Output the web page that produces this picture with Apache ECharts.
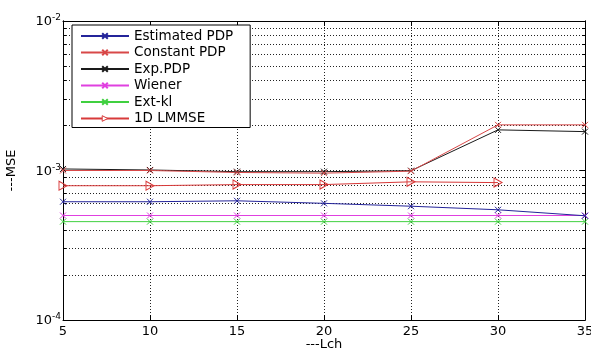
<!DOCTYPE html>
<html>
<head>
<meta charset="utf-8">
<script src="https://cdn.jsdelivr.net/npm/echarts@6/dist/echarts.min.js"></script>
<style>html,body{margin:0;padding:0;background:#fff}#c{width:591px;height:349px}</style>
</head>
<body>
<div id="c"></div>
<script>
var lch = [5, 10, 15, 20, 25, 30, 35];
var estimatedPDP = [6.18e-4, 6.18e-4, 6.27e-4, 6.03e-4, 5.77e-4, 5.46e-4, 4.98e-4];
var constantPDP = [1.0e-3, 1.0e-3, 9.7e-4, 9.6e-4, 9.9e-4, 2.02e-3, 2.02e-3];
var expPDP = [1.024e-3, 1.008e-3, 9.82e-4, 9.82e-4, 9.97e-4, 1.87e-3, 1.82e-3];
var wiener = [5.0e-4, 5.0e-4, 5.0e-4, 5.0e-4, 5.0e-4, 5.0e-4, 5.0e-4];
var extKl = [4.55e-4, 4.55e-4, 4.55e-4, 4.55e-4, 4.55e-4, 4.55e-4, 4.55e-4];
var lmmse1D = [7.91e-4, 7.91e-4, 8.05e-4, 8.05e-4, 8.4e-4, 8.3e-4];
var yMajorTicks = [1e-4, 1e-3, 1e-2];
var yMinorTicks = [2e-4, 3e-4, 4e-4, 5e-4, 6e-4, 7e-4, 8e-4, 9e-4, 2e-3, 3e-3, 4e-3, 5e-3, 6e-3, 7e-3, 8e-3, 9e-3];

function pairs(xs, ys) { return ys.map(function (v, i) { return [xs[i], v]; }); }

var X = 'path://M0,0L10,10M10,0L0,10';
var TRI = 'path://M0,0L10,5L0,10Z';
var FONT = 'DejaVu Sans';
var DOT = [1, 2];
var LMMSE_COLOR = '#d83a3a';

function mk(name, data, color, sym, size, fill) {
  return {
    name: name, type: 'line', data: pairs(lch, data),
    symbol: sym, symbolSize: size, showSymbol: true,
    lineStyle: { color: color, width: 1 },
    itemStyle: { color: fill || color, borderColor: color, borderWidth: 1 },
    emphasis: { disabled: true }, animation: false, z: 5
  };
}

var series = [
  mk('Ext-kl', extKl, '#40d040', X, 6),
  mk('Wiener', wiener, '#e040e0', X, 6),
  mk('Estimated PDP', estimatedPDP, '#24249a', X, 6),
  mk('1D LMMSE', lmmse1D, LMMSE_COLOR, TRI, [8, 9], 'rgba(255,255,255,0)'),
  mk('Exp.PDP', expPDP, '#1a1a1a', X, 6),
  mk('Constant PDP', constantPDP, '#d84848', X, 6)
];

var base = { min: 1e-4, max: 1e-2, logBase: 10, type: 'log' };
function yax(pos, ticks, len, labels, grid) {
  return Object.assign({}, base, {
    position: pos,
    axisLine: { show: true, lineStyle: { color: '#000', width: 1 } },
    axisTick: { show: true, inside: true, length: len, customValues: ticks, lineStyle: { color: '#000' } },
    axisLabel: labels ? {
      show: true, customValues: yMajorTicks, margin: 2,
      formatter: function (v) { return '{b|10}{s|' + Math.round(Math.log10(v)) + '}'; },
      rich: {
        b: { fontFamily: FONT, fontSize: 13, color: '#000', verticalAlign: 'bottom' },
        s: { fontFamily: FONT, fontSize: 9, color: '#000', verticalAlign: 'bottom', padding: [0, 0, 6, 0] }
      }
    } : { show: false },
    splitLine: { show: !!grid, lineStyle: { color: '#222', width: 1, type: DOT } },
    name: labels ? '---MSE' : '',
    nameLocation: 'middle', nameGap: 45, nameMoveOverlap: false,
    nameTextStyle: { fontFamily: FONT, fontSize: 13, color: '#000' }
  });
}

var option = {
  backgroundColor: '#fff',
  animation: false,
  grid: { left: 63, right: 6, top: 21, bottom: 29, containLabel: false, outerBoundsMode: 'none' },
  legend: {
    left: 72, top: 25, orient: 'vertical',
    itemWidth: 48, itemHeight: 7, itemGap: 2.5,
    padding: [4, 17, 2, 8],
    backgroundColor: '#fff', borderColor: '#000', borderWidth: 1,
    textStyle: { fontFamily: FONT, fontSize: 13.5, color: '#000' },
    data: ['Estimated PDP', 'Constant PDP', 'Exp.PDP', 'Wiener', 'Ext-kl',
      { name: '1D LMMSE', itemStyle: { color: '#fff', borderColor: LMMSE_COLOR, borderWidth: 1 } }],
    selectedMode: false, z: 10
  },
  xAxis: [
    {
      type: 'value', min: 5, max: 35, interval: 5, position: 'bottom',
      axisLine: { show: true, lineStyle: { color: '#000' } },
      axisTick: { show: true, inside: true, length: 5, lineStyle: { color: '#000' } },
      axisLabel: { fontFamily: FONT, fontSize: 13, color: '#000', margin: 5 },
      splitLine: { show: true, lineStyle: { color: '#222', width: 1, type: DOT } },
      name: '---Lch', nameLocation: 'middle', nameGap: 18, nameMoveOverlap: false,
      nameTextStyle: { fontFamily: FONT, fontSize: 13, color: '#000', verticalAlign: 'top' }
    },
    {
      type: 'value', min: 5, max: 35, interval: 5, position: 'top',
      axisLine: { show: true, lineStyle: { color: '#000' } },
      axisTick: { show: true, inside: true, length: 5, lineStyle: { color: '#000' } },
      axisLabel: { show: false }, splitLine: { show: false }
    }
  ],
  yAxis: [
    yax('left', yMajorTicks, 5, true, true),
    yax('left', yMinorTicks, 3, false, true),
    yax('right', yMajorTicks, 5, false, false),
    yax('right', yMinorTicks, 3, false, false)
  ],
  series: series
};

var chart = echarts.init(document.getElementById('c'), null, { renderer: 'canvas' });
chart.setOption(option);
</script>
</body>
</html>
